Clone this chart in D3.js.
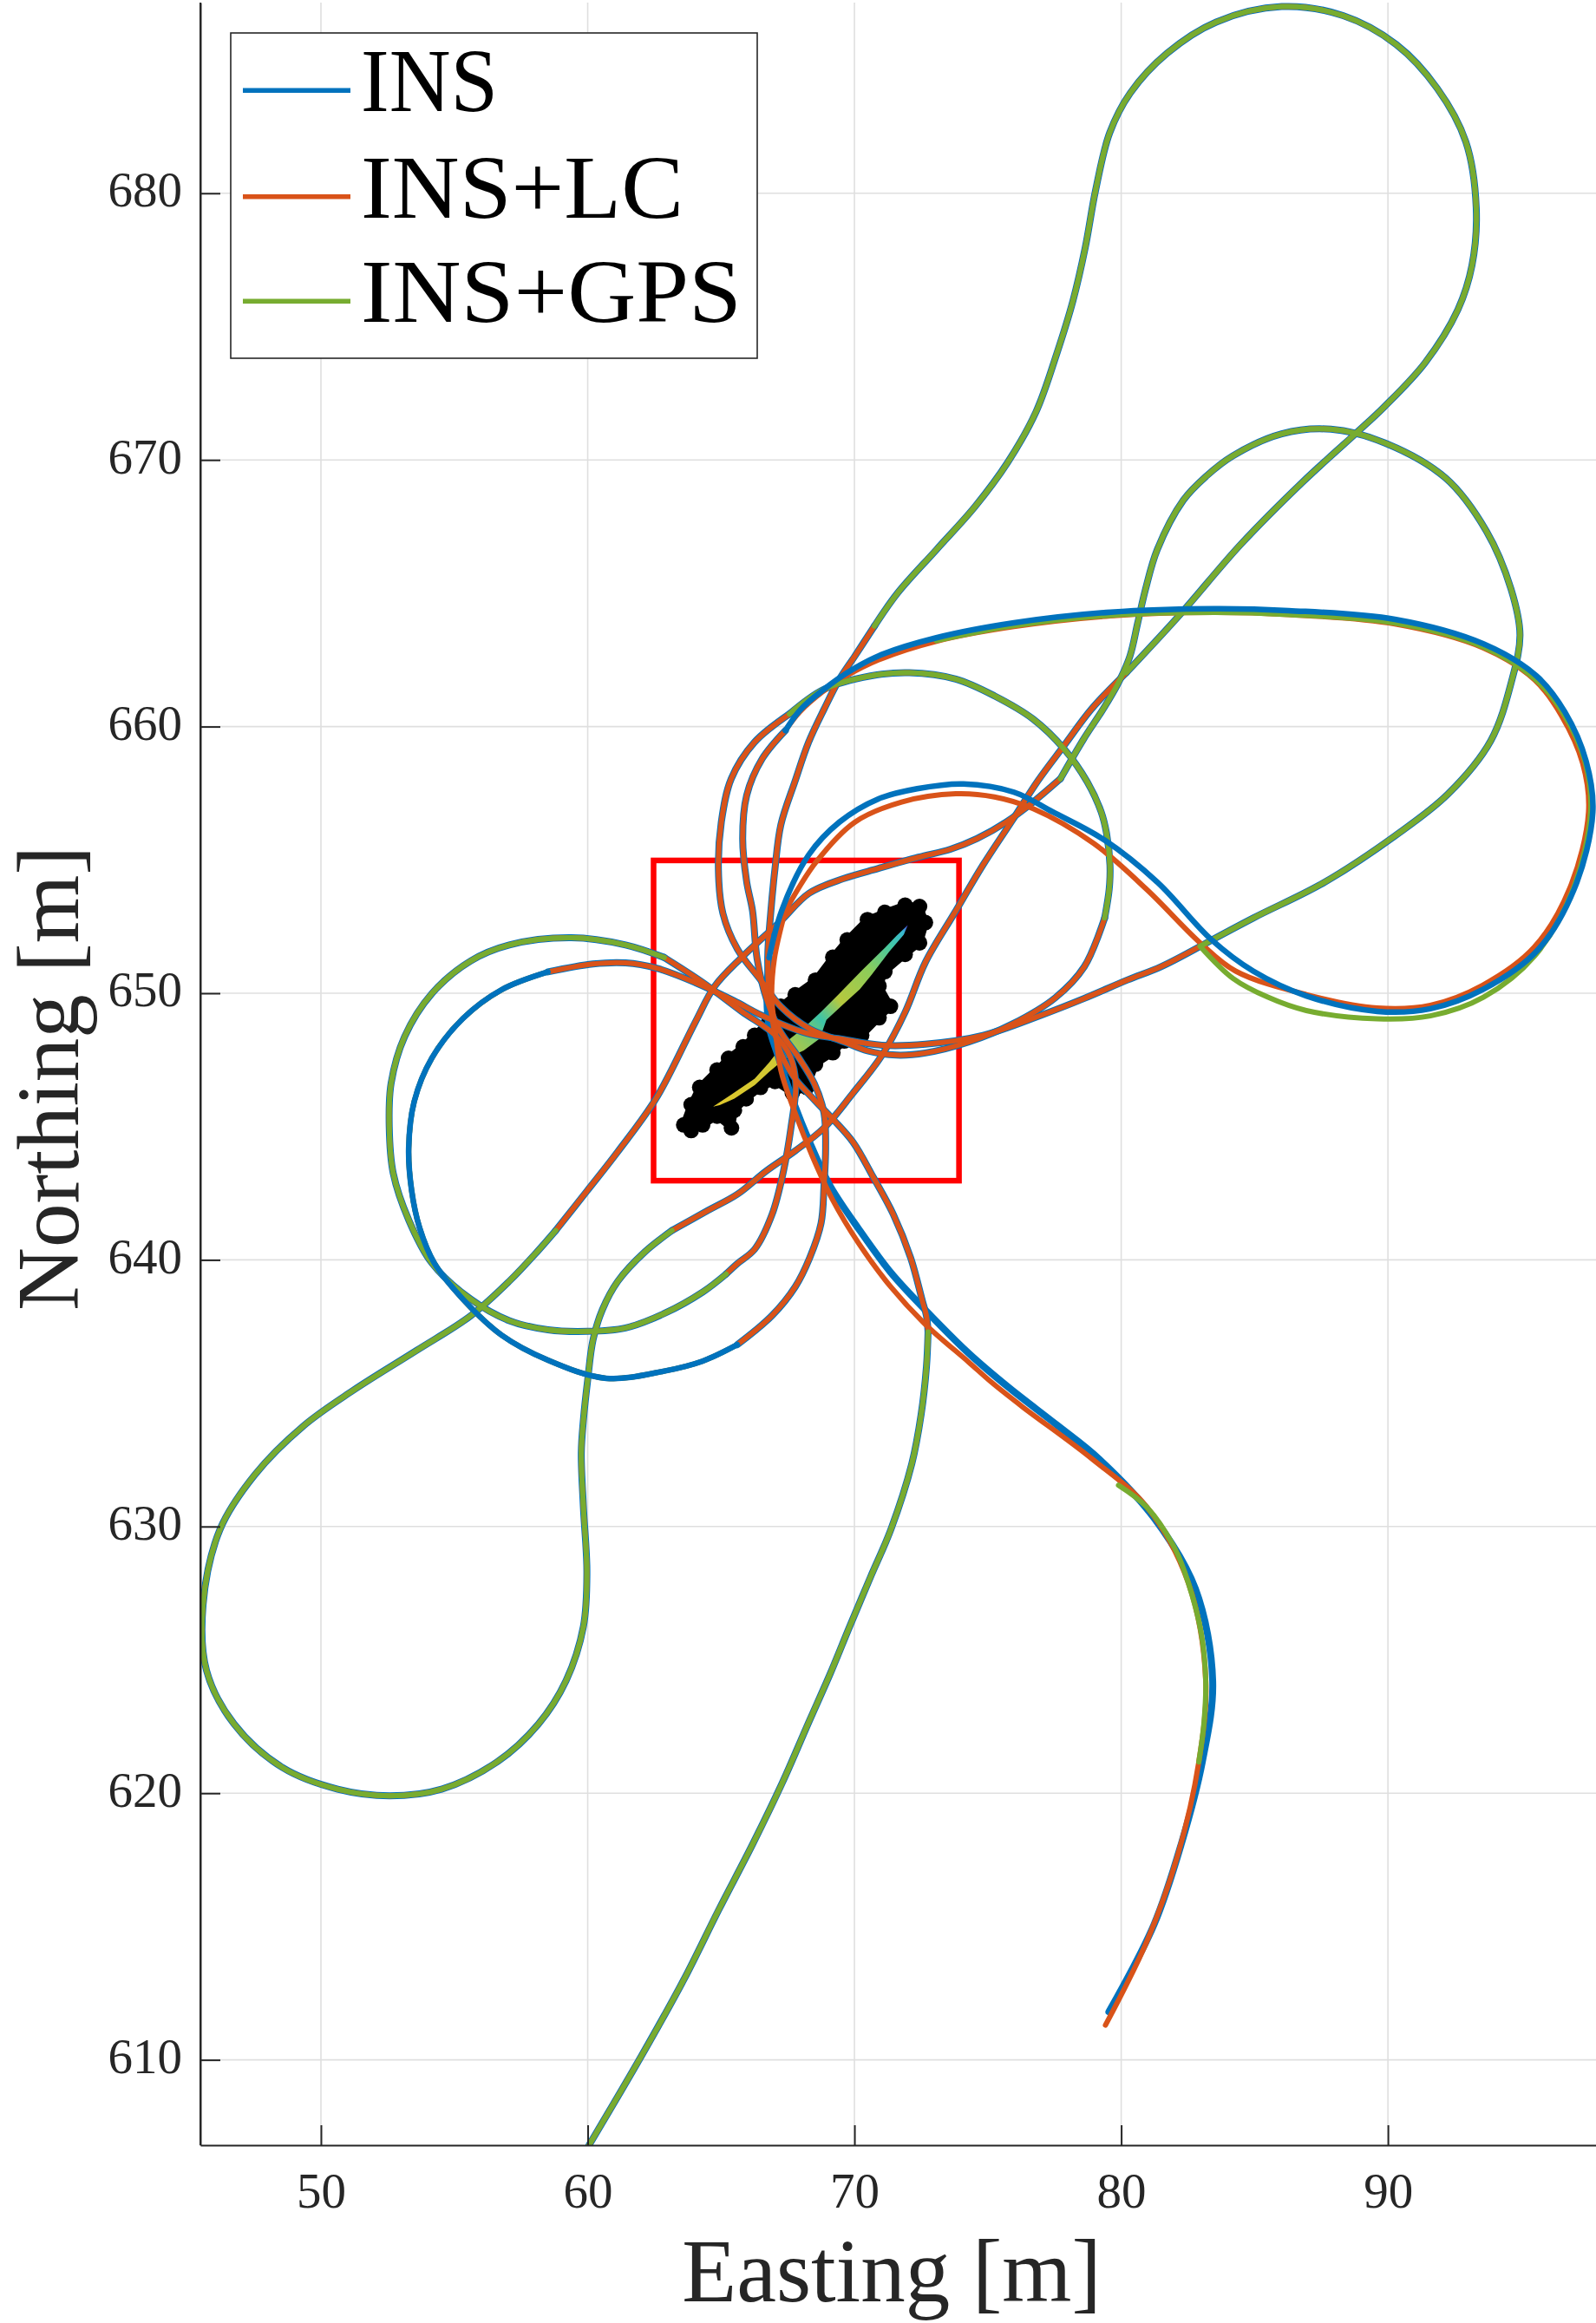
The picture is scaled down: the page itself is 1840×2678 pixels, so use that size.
<!DOCTYPE html>
<html><head><meta charset="utf-8">
<script src="https://cdn.jsdelivr.net/npm/d3@7"></script>
<style>body{margin:0;background:#fff}svg{display:block}</style>
</head><body>
<svg id="c" width="1840" height="2678"></svg>
<script>
// ---------------- data ----------------
const seriesNames = ["INS", "INS+LC", "INS+GPS"];
const xTicks = [50, 60, 70, 80, 90];
const yTicks = [610, 620, 630, 640, 650, 660, 670, 680];
const xDomain = [45.48, 97.8];
const yDomain = [606.8, 687.15];
const redBox = [[62.47, 642.97], [73.92, 654.98]];

const startDiag = [[60.05,606.8],[62.04,610.19],[63.6,613.0],[64.9,615.6],[66.19,618.1],[67.3,620.4],[68.26,622.6],[69.1,624.5],[69.82,626.25],[70.6,628.1],[71.37,629.9],[72.15,632.35],[72.5,634.2],[72.7,636.0],[72.76,637.3]];
const upBranch = [[72.76,637.3],[72.7,637.9],[72.55,638.45],[72.11,640.07],[71.46,641.7],[70.7,643.11],[69.95,644.41],[69.19,645.28],[68.4,646.1],[67.7,646.9],[67.15,648.0],[66.85,649.5],[66.75,651.33],[66.86,652.99],[67.02,654.65],[67.24,656.31],[67.78,657.97],[68.28,659.41],[68.86,660.65],[69.44,661.78],[70.02,662.65],[70.75,663.77]];
const topLoop = [[70.75,663.77],[71.62,665.01],[73.07,666.63],[74.52,668.25],[75.74,669.9],[76.81,671.81],[77.58,673.97],[78.19,675.96],[78.65,677.95],[79.04,680.11],[79.57,682.27],[80.34,683.76],[81.72,685.25],[83.56,686.42],[86.02,687.0],[88.32,686.66],[90.31,685.58],[91.85,683.93],[92.92,681.93],[93.31,679.45],[93.15,677.29],[92.62,675.63],[91.39,673.64],[89.85,671.98],[88.78,670.98],[86.78,669.15],[84.48,666.83],[82.18,664.17],[80.19,662.02]];
const diagDown = [[80.19,662.02],[78.88,660.65],[77.86,659.29],[76.88,657.97],[75.91,656.47],[74.82,654.81],[73.74,652.99],[72.66,651.16],[71.9,649.29],[71.03,647.67],[69.95,646.26],[68.86,644.95],[67.78,644.09],[66.69,643.33],[65.61,642.46],[64.5,641.85],[63.16,641.1]];
const loopBL = [[63.16,641.1],[62.14,640.3],[61.13,639.2],[60.55,638.13],[60.2,637.0],[60.0,635.5],[59.84,634.0],[59.76,632.76],[59.84,630.72],[59.97,628.28],[59.84,626.25],[59.19,624.22],[58.15,622.59],[56.6,621.17],[54.52,620.15],[52.58,619.9],[50.63,620.15],[48.56,620.96],[46.74,622.6],[45.71,624.6],[45.58,627.06],[46.22,629.9],[47.52,631.94],[49.34,633.77],[51.2,635.1],[53.58,636.6],[55.61,637.9],[57.06,639.2],[58.1,640.3],[58.8,641.1]];
const diagUp = [[58.8,641.1],[59.97,642.58],[61.13,644.06],[62.58,646.08],[64.03,648.91],[64.76,650.26],[65.77,651.34],[67.22,652.69],[68.3,653.75],[69.6,654.3],[70.9,654.68],[72.4,655.1],[73.6,655.4],[74.6,655.8],[75.69,656.42],[76.7,657.17],[77.72,658.04]];
const loop671 = [[77.72,658.04],[78.59,659.53],[79.32,660.65],[79.9,661.65],[80.33,662.65],[80.62,663.89],[80.91,665.14],[81.35,666.63],[82.33,668.49],[83.2,669.4],[84.18,670.15],[86.02,670.98],[87.86,671.15],[89.85,670.65],[92.16,669.32],[93.69,667.33],[94.61,665.17],[94.95,663.44],[94.64,661.72],[93.85,659.46],[92.25,657.47],[90.26,655.9],[87.6,654.15],[84.95,652.82],[82.96,651.76]];
const lcLeft = [[82.96,651.76],[81.5,651.0],[80.24,650.5],[78.6,649.8],[76.99,649.17],[74.82,648.42],[72.66,648.09],[71.03,648.05],[69.4,648.3],[68.21,648.5],[66.5,649.18],[65.48,649.72],[64.03,650.4],[62.58,650.94],[61.42,651.14],[60.2,651.1],[58.51,650.8]];
const circleBLow = [[58.51,650.8],[56.77,650.13],[55.32,649.05],[54.16,647.57],[53.5,645.95],[53.29,644.2],[53.4,642.6],[53.7,641.2],[54.25,639.88],[55.32,638.53],[56.77,637.18],[58.51,636.24],[60.69,635.56],[62.87,635.83],[64.3,636.2],[65.61,636.82]];
const circleBRight = [[65.61,636.82],[66.91,637.91],[67.78,638.99],[68.32,640.07],[68.75,641.38],[68.86,642.79],[68.92,644.2],[68.86,645.5],[68.5,646.6],[67.9,647.6],[67.2,648.6],[66.7,649.8],[66.35,651.3],[66.18,653.09],[65.96,654.18],[65.81,655.8],[65.96,657.42],[66.54,658.79],[67.41,659.85]];
const k2Top = [[79.38,652.82],[79.55,653.9],[79.58,654.8],[79.45,656.0],[79.25,656.8],[78.73,657.92],[77.86,659.16],[76.7,660.28],[75.25,661.15],[73.8,661.78],[72.06,662.02],[70.6,661.9],[68.86,661.4],[67.56,660.47]];
const k2Low = [[67.56,660.47],[66.25,659.41],[65.38,658.04],[65.01,656.42],[64.9,654.65],[65.07,652.99],[65.61,651.66],[66.48,650.5],[67.24,649.5],[68.32,648.67],[69.62,648.17],[70.49,647.84],[71.57,647.68],[72.66,647.76],[74.28,648.17],[75.91,648.84],[77.53,649.83],[78.62,651.0],[79.38,652.82]];
const circleAOuter = [[65.19,639.47],[64.32,638.8],[62.87,637.99],[61.42,637.45],[59.97,637.32],[58.51,637.38],[57.06,637.72],[55.61,638.53],[54.16,639.88],[53.29,641.5],[52.71,643.25],[52.56,645.0],[52.63,646.62],[53.14,648.38],[54.16,649.99],[55.61,651.21],[57.06,651.81],[59.38,652.08],[61.42,651.81],[62.87,651.34]];
const circleARight = [[62.87,651.34],[64.32,650.4],[65.77,649.32],[67.0,648.45],[67.6,647.6],[67.8,646.6],[67.62,644.95],[67.34,643.33],[66.91,641.7],[66.26,640.4],[65.61,639.86],[65.19,639.47]];
const ins664 = [[67.41,659.85],[67.99,660.65],[68.86,661.4],[69.73,662.02],[70.9,662.65],[73.07,663.33],[75.98,663.89],[79.6,664.29],[83.5,664.42],[86.28,664.35],[90.26,664.02],[93.58,663.1],[95.57,661.9],[96.63,660.55],[97.43,658.7],[97.68,656.8],[96.98,653.9],[95.6,651.6],[93.58,650.15],[91.59,649.42],[89.6,649.32],[86.94,649.9],[84.95,650.83],[83.36,652.03],[81.37,654.15],[79.38,655.74],[77.43,656.8],[75.98,657.54],[74.09,657.85],[72.35,657.67],[70.9,657.29],[69.44,656.42],[68.28,655.18],[67.27,653.09],[66.8,651.33]];
const insDescent = [[66.8,651.33],[66.72,649.8],[66.8,648.75],[67.13,647.67],[67.67,646.04],[68.32,644.41],[69.08,642.79],[70.16,641.16],[71.36,639.53],[72.66,638.12],[74.28,636.5],[75.8,635.2],[77.6,633.8],[79.15,632.55],[81.23,630.32],[82.78,627.67],[83.43,624.2],[83.04,621.17],[82.26,618.12],[81.23,615.07],[79.54,611.8]];
const lc664 = [[67.41,659.85],[67.95,660.55],[68.8,661.3],[69.7,661.9],[70.9,662.5],[73.07,663.2],[75.98,663.75],[79.6,664.15],[83.5,664.28],[86.28,664.2],[90.26,663.85],[93.58,662.95],[95.5,661.75],[96.5,660.42],[97.3,658.62],[97.52,656.8],[96.82,653.95],[95.48,651.72],[93.55,650.3],[91.59,649.55],[89.6,649.45],[86.94,649.95],[84.29,650.83],[82.96,651.89],[80.97,653.88],[78.98,655.61],[76.7,656.92],[75.25,657.36],[73.8,657.48],[71.77,657.17],[70.02,656.42],[68.57,654.93],[67.41,653.09]];
const lcDescent = [[67.41,653.09],[67.0,651.3],[66.9,649.8],[67.02,648.75],[67.24,647.12],[67.78,645.5],[68.43,643.87],[69.19,642.24],[70.16,640.62],[71.36,638.99],[72.66,637.58],[74.28,636.17],[75.15,635.4],[76.3,634.49],[78.89,632.55],[80.97,630.72],[82.52,627.88],[83.17,624.22],[82.91,621.17],[82.13,617.71],[80.97,614.46],[79.41,611.3]];
const gps664 = [[82.96,651.76],[84.2,650.55],[85.5,649.85],[86.94,649.35],[89.6,649.04],[91.59,649.15],[93.58,649.85],[95.5,651.4],[96.9,653.8],[97.6,656.8],[97.38,658.7],[96.58,660.48],[95.52,661.78],[93.58,662.98],[90.26,663.88],[86.28,664.2],[83.5,664.28],[79.6,664.17],[75.98,663.78],[73.07,663.22]];
const gpsDescentPart = [[79.9,631.55],[80.97,630.72],[82.0,629.2],[82.52,627.88],[83.0,626.0],[83.17,624.22],[83.1,622.6],[82.91,621.17]];

// estimate cloud: outline of the black markers, and the coloured interior
const clusterOutline = [[63.6,645.06],[63.88,645.82],[64.2,646.47],[64.85,647.12],[65.28,647.56],[65.83,647.99],[66.26,648.42],[66.8,648.97],[67.24,649.51],[67.78,649.94],[68.54,650.49],[69.19,651.35],[69.73,652.0],[70.49,652.76],[71.14,653.03],[71.9,653.3],[72.44,653.25],[72.66,652.65],[72.44,651.89],[71.9,651.46],[71.14,650.81],[70.92,650.27],[71.35,649.51],[70.92,649.08],[70.27,648.42],[69.62,648.21],[69.19,647.77],[68.54,647.34],[68.21,646.47],[67.67,646.26],[67.02,646.69],[66.48,646.47],[65.94,646.04],[65.5,645.61],[65.39,644.95],[64.85,645.39],[64.31,645.06],[63.88,644.85]];
const clusterCore = [[64.7,645.75],[65.39,646.2],[66.26,646.8],[66.8,647.4],[67.34,648.1],[68.1,648.7],[68.75,649.3],[69.4,649.95],[70.27,650.85],[71.14,651.7],[71.57,652.15],[72.0,652.55],[71.85,652.2],[71.3,651.55],[70.65,650.7],[70.2,650.15],[69.6,649.6],[68.95,649.0],[68.7,648.3],[68.1,647.85],[67.34,647.5],[66.8,647.05],[66.26,646.55],[65.5,646.05],[64.95,645.8]];

const insSegs = [startDiag, upBranch, topLoop, diagDown, loopBL, diagUp, loop671, lcLeft, circleBLow, circleBRight, k2Top, k2Low, circleAOuter, circleARight, ins664, insDescent];
const lcSegs  = [startDiag, upBranch, topLoop, diagDown, loopBL, diagUp, loop671, lcLeft, circleBLow, circleBRight, k2Top, k2Low, circleAOuter, circleARight, lc664, lcDescent];
const gpsSegs = [startDiag, topLoop, loopBL, loop671, circleBLow, k2Top, circleAOuter, gps664, gpsDescentPart];
const legendTextWidth = [158, 372, 439];

// ---------------- drawing ----------------
const colors = {"INS":"#0072BD","INS+LC":"#D95319","INS+GPS":"#77AC30"};
const axisCol = "#262626";
const plot = {left:231, right:1840, top:3, bottom:2473};
const svg = d3.select("#c");
const x = d3.scaleLinear().domain(xDomain).range([plot.left, plot.right]);
const y = d3.scaleLinear().domain(yDomain).range([plot.bottom, plot.top]);

const defs = svg.append("defs");
defs.append("clipPath").attr("id","clip").append("rect")
  .attr("x",plot.left).attr("y",plot.top).attr("width",plot.right-plot.left).attr("height",plot.bottom-plot.top);
const grad = defs.append("linearGradient").attr("id","parula").attr("gradientUnits","userSpaceOnUse")
  .attr("x1",x(64.7)).attr("y1",y(645.75)).attr("x2",x(72.0)).attr("y2",y(652.55));
[["0","#e0c82c"],["0.3","#cfc834"],["0.45","#7cc86a"],["0.52","#3cc4a8"],["0.62","#b6c83e"],["0.78","#8ccc5a"],["0.9","#44c8a4"],["0.97","#38b8d0"],["1","#5040e0"]]
  .forEach(s=>grad.append("stop").attr("offset",s[0]).attr("stop-color",s[1]));

// grid
const g = svg.append("g");
g.selectAll(".gx").data(xTicks).enter().append("line")
  .attr("x1",d=>x(d)).attr("x2",d=>x(d)).attr("y1",plot.top).attr("y2",plot.bottom)
  .attr("stroke","#dfdfdf").attr("stroke-width",1.6);
g.selectAll(".gy").data(yTicks).enter().append("line")
  .attr("y1",d=>y(d)).attr("y2",d=>y(d)).attr("x1",plot.left).attr("x2",plot.right)
  .attr("stroke","#dfdfdf").attr("stroke-width",1.6);

const pg = svg.append("g").attr("clip-path","url(#clip)");

// cluster
const closed = d3.line().x(d=>x(d[0])).y(d=>y(d[1])).curve(d3.curveLinearClosed);
pg.append("path").attr("d",closed(clusterOutline)).attr("fill","#000").attr("stroke","#000").attr("stroke-width",8).attr("stroke-linejoin","round");
pg.selectAll(".dot").data(clusterOutline).enter().append("circle")
  .attr("cx",d=>x(d[0])).attr("cy",d=>y(d[1])).attr("r",9).attr("fill","#000");
pg.append("path").attr("d",closed(clusterCore)).attr("fill","url(#parula)");

// red box
pg.append("rect").attr("x",x(redBox[0][0])).attr("y",y(redBox[1][1]))
  .attr("width",x(redBox[1][0])-x(redBox[0][0])).attr("height",y(redBox[0][1])-y(redBox[1][1]))
  .attr("fill","none").attr("stroke","#ff0000").attr("stroke-width",6.5);

const line = d3.line().x(d=>x(d[0])).y(d=>y(d[1])).curve(d3.curveCatmullRom.alpha(0.5));
function drawSegs(segs, col, w){
  pg.append("g").selectAll("path").data(segs).enter().append("path")
    .attr("d",line).attr("fill","none").attr("stroke",col).attr("stroke-width",w)
    .attr("stroke-linejoin","round").attr("stroke-linecap","round");
}
const blueTop = [ins664, circleBLow];
drawSegs(insSegs.filter(s=>!blueTop.includes(s)), colors["INS"], 8);
drawSegs(lcSegs, colors["INS+LC"], 6);
drawSegs(gpsSegs, colors["INS+GPS"], 6);
drawSegs(blueTop, colors["INS"], 6.5);

// axes
const fontFam = "'Liberation Serif','Times New Roman',serif";
const xa = svg.append("g").attr("transform",`translate(0,${plot.bottom})`)
  .call(d3.axisBottom(x).tickValues(xTicks).tickSize(-23).tickSizeOuter(0).tickPadding(32).tickFormat(d3.format("d")));
const ya = svg.append("g").attr("transform",`translate(${plot.left},0)`)
  .call(d3.axisLeft(y).tickValues(yTicks).tickSize(-23).tickSizeOuter(0).tickPadding(21).tickFormat(d3.format("d")));
[xa,ya].forEach(a=>{
  a.select(".domain").attr("stroke",axisCol).attr("stroke-width",2);
  a.selectAll(".tick line").attr("stroke",axisCol).attr("stroke-width",2);
  a.selectAll(".tick text").attr("fill",axisCol).style("font-family",fontFam).style("font-size","57px");
});
ya.selectAll(".tick text").attr("dy","0.26em");
svg.append("line").attr("x1",plot.left).attr("x2",plot.left).attr("y1",plot.top).attr("y2",plot.bottom)
  .attr("stroke",axisCol).attr("stroke-width",2);

svg.append("text").attr("x",1028).attr("y",2653).attr("text-anchor","middle")
  .style("font-family",fontFam).style("font-size","103px").attr("fill",axisCol).text("Easting [m]");
svg.append("text").attr("transform","translate(90,1243) rotate(-90)").attr("text-anchor","middle")
  .style("font-family",fontFam).style("font-size","101px").attr("fill",axisCol).text("Northing [m]");

// legend
const lg = svg.append("g");
lg.append("rect").attr("x",266).attr("y",38).attr("width",607).attr("height",375)
  .attr("fill","#fff").attr("stroke",axisCol).attr("stroke-width",1.6);
const rowY = [104.3, 226.7, 347.3];
seriesNames.forEach((n,i)=>{
  lg.append("line").attr("x1",280).attr("x2",404).attr("y1",rowY[i]).attr("y2",rowY[i])
    .attr("stroke",colors[n]).attr("stroke-width",5.5);
  lg.append("text").attr("x",416).attr("y",rowY[i]+24)
    .attr("textLength",legendTextWidth[i]).attr("lengthAdjust","spacingAndGlyphs")
    .style("font-family",fontFam).style("font-size","103px").attr("fill","#000").text(n);
});
</script>
</body></html>
